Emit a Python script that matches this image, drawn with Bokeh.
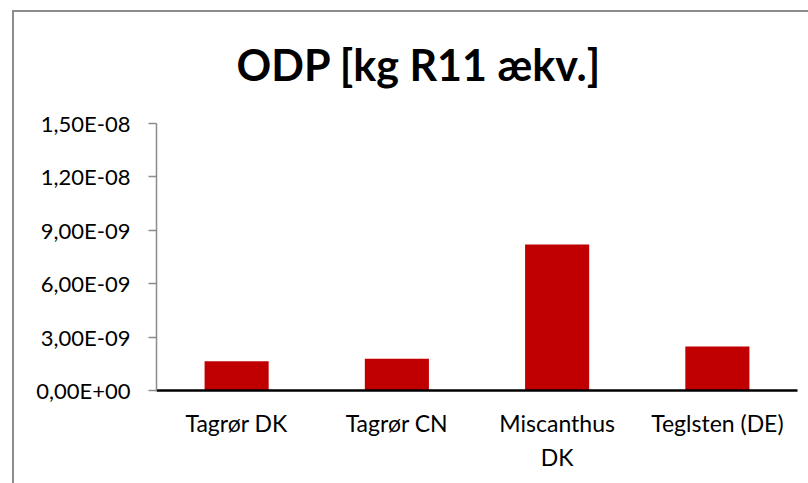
from bokeh.plotting import figure
from bokeh.models import ColumnDataSource, Range1d, FixedTicker, CustomJSTickFormatter, FactorRange, CategoricalAxis
from bokeh.embed import file_html
from bokeh.resources import INLINE

categories = ["Tagrør DK", "Tagrør CN", "Miscanthus DK", "Teglsten (DE)"]
label_line1 = ["Tagrør DK", "Tagrør CN", "Miscanthus", "Teglsten (DE)"]
label_line2 = ["", "", "DK", ""]
values = [1.65e-9, 1.78e-9, 8.20e-9, 2.47e-9]
y_ticks = [0.0, 3e-9, 6e-9, 9e-9, 1.2e-8, 1.5e-8]
title_text = "ODP [kg R11 ækv.]"

src = ColumnDataSource(data=dict(cat=categories, val=values))

p = figure(x_range=FactorRange(*categories), y_range=Range1d(0, 1.5e-8),
           width=796, height=483, output_backend="svg", toolbar_location=None,
           min_border_left=144, min_border_right=11, min_border_top=123, min_border_bottom=93)
p.margin = (0, 0, 0, 12)
p.border_fill_color = None
p.background_fill_color = "#ffffff"
p.styles = {
    "background-image": "linear-gradient(#8c8c8c, #8c8c8c), linear-gradient(#8c8c8c, #8c8c8c)",
    "background-size": "100% 2px, 2px 100%",
    "background-position": "0 10px, 0 10px",
    "background-repeat": "no-repeat",
}

p.vbar(x="cat", top="val", width=0.4, bottom=0, source=src,
       fill_color="#C00000", line_color=None)

p.title.text = title_text
p.title.text_font = "Lato"
p.title.text_font_size = "43px"
p.title.text_font_style = "bold"
p.title.text_color = "#000000"
p.title.align = "left"
p.title.offset = 80
p.title.standoff = 68

p.outline_line_color = None
p.xgrid.visible = False
p.ygrid.visible = False

p.yaxis.ticker = FixedTicker(ticks=y_ticks)
p.yaxis.formatter = CustomJSTickFormatter(code="""
var s = tick.toExponential(2);
var parts = s.split('e');
var m = parts[0].replace('.', ',');
var e = parseInt(parts[1]);
var sign = e < 0 ? '-' : '+';
var a = Math.abs(e);
return m + 'E' + sign + (a < 10 ? '0' + a : '' + a);
""")
p.yaxis.axis_line_color = "#8c8c8c"
p.yaxis.axis_line_width = 1.5
p.yaxis.major_tick_line_color = "#8c8c8c"
p.yaxis.major_tick_line_width = 1.5
p.yaxis.major_tick_out = 8
p.yaxis.major_tick_in = 0
p.yaxis.minor_tick_line_color = None
p.yaxis.major_label_standoff = 18
p.yaxis.major_label_text_font = "Lato"
p.yaxis.major_label_text_font_size = "22px"
p.yaxis.major_label_text_color = "#000000"

xa = p.xaxis[0]
xa.axis_line_color = "#000000"
xa.axis_line_width = 2.5
xa.major_tick_line_color = None
xa.minor_tick_line_color = None
xa.major_label_standoff = 12
xa.major_label_text_font = "Lato"
xa.major_label_text_font_size = "23px"
xa.major_label_text_color = "#000000"
xa.formatter = CustomJSTickFormatter(args=dict(m=dict(zip(categories, label_line1))),
                                     code="return m[tick];")

xa2 = CategoricalAxis(axis_line_color=None, major_tick_line_color=None,
                      minor_tick_line_color=None, major_label_standoff=-3,
                      major_label_text_font="Lato", major_label_text_font_size="23px",
                      major_label_text_color="#000000",
                      formatter=CustomJSTickFormatter(args=dict(m=dict(zip(categories, label_line2))),
                                                      code="return m[tick];"))
p.add_layout(xa2, "below")

p.x_range.range_padding = 0
p.x_range.group_padding = 0

open("out.html", "w").write(file_html(p, INLINE))
